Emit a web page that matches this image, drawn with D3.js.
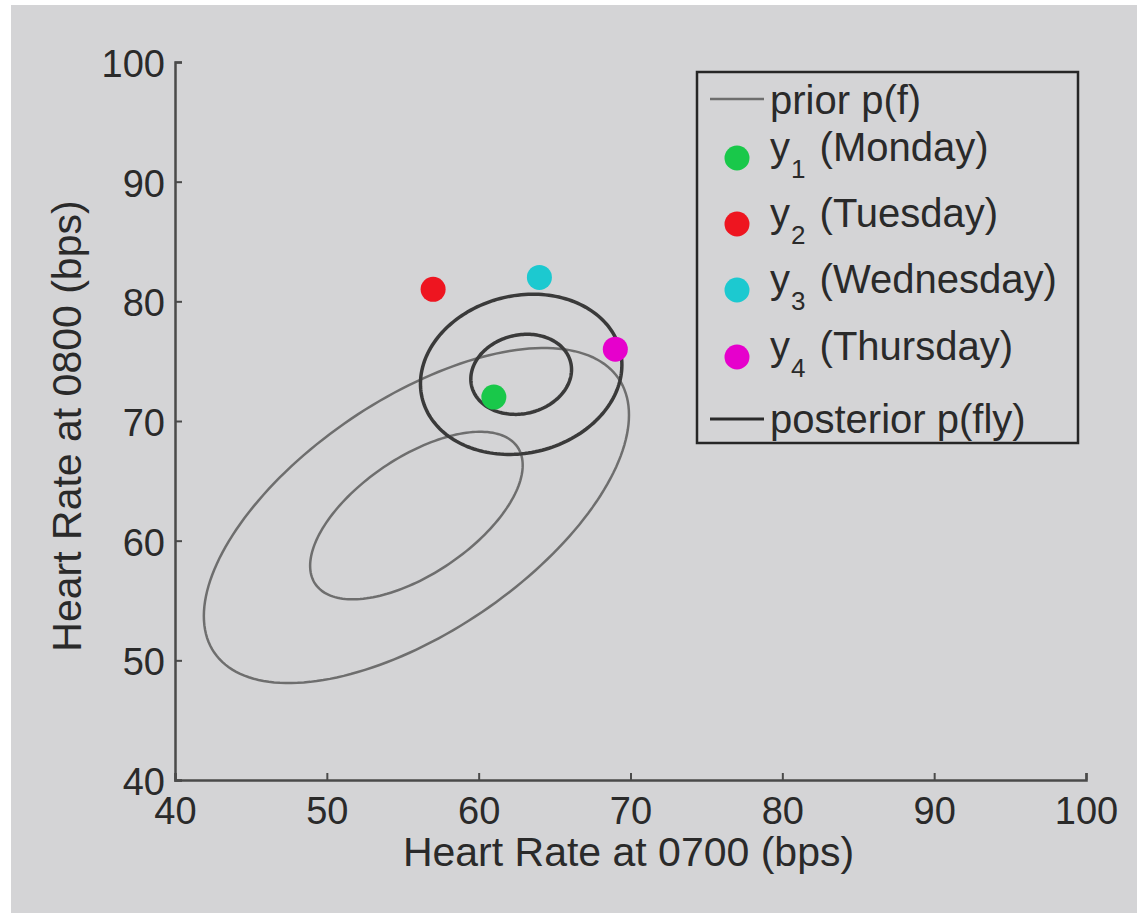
<!DOCTYPE html>
<html>
<head>
<meta charset="utf-8">
<script src="https://cdn.jsdelivr.net/npm/d3@7"></script>
<style>
  html, body { margin: 0; padding: 0; background: #ffffff; }
  svg { display: block; }
  text { font-family: "Liberation Sans", Arial, Helvetica, sans-serif; fill: #2a2a2a; }
</style>
</head>
<body>
<svg id="chart" width="1137" height="913"></svg>
<script>
// Observed heart rates (0700, 0800) for each day
const days = ["Monday", "Tuesday", "Wednesday", "Thursday"];
const obsX = [61, 57, 64, 69];
const obsY = [72, 81, 82, 76];
const obsColors = ["#19c84a", "#ee1520", "#1cc9d0", "#e600cc"];

// Gaussian prior p(f): mean and covariance
const priorMean = [55.9, 62.1];
const priorCov = [[49, 29.4], [29.4, 49]];

// Gaussian posterior p(f|y): mean and covariance
const postMean = [62.8, 73.9];
const postCov = [[11.0, 1.3], [1.3, 11.2]];

// Contour levels in standard deviations
const contourLevels = [1, 2];

// Axis ticks
const xTicks = [40, 50, 60, 70, 80, 90, 100];
const yTicks = [40, 50, 60, 70, 80, 90, 100];

const svg = d3.select("#chart");

// grey figure background
svg.append("rect").attr("x", 11).attr("y", 5).attr("width", 1126).attr("height", 908)
  .attr("fill", "#d4d4d6");

const x = d3.scaleLinear().domain([40, 100]).range([175, 1086]);
const y = d3.scaleLinear().domain([40, 100]).range([780, 62]);

// axes: left and bottom only, inward ticks
const axisColor = "#4a4a4a";
const xAxis = svg.append("g").attr("transform", `translate(0,${y(40)})`)
  .call(d3.axisBottom(x).tickValues(xTicks).tickSize(-7).tickPadding(17));
const yAxis = svg.append("g").attr("transform", `translate(${x(40)},0)`)
  .call(d3.axisLeft(y).tickValues(yTicks).tickSize(-7).tickPadding(10));

[xAxis, yAxis].forEach(g => {
  g.select(".domain").attr("stroke", axisColor).attr("stroke-width", 2.5);
  g.selectAll(".tick line").attr("stroke", axisColor).attr("stroke-width", 2);
  g.selectAll(".tick text").attr("fill", "#2a2a2a")
    .style("font-size", "38px").style("font-family", '"Liberation Sans", Arial, sans-serif');
});
xAxis.selectAll(".tick text").attr("dy", "0.71em");
yAxis.selectAll(".tick text").attr("dy", "0.38em");

// axis labels
svg.append("text").attr("x", x(70) - 2).attr("y", 866).attr("text-anchor", "middle")
  .style("font-size", "41px").text("Heart Rate at 0700 (bps)");
svg.append("text").attr("transform", `translate(81,${y(70) + 5}) rotate(-90)`)
  .attr("text-anchor", "middle").style("font-size", "41px").text("Heart Rate at 0800 (bps)");

// contour of a 2-D Gaussian at k standard deviations, via Cholesky factor
function ellipsePoints(mean, cov, k) {
  const a = Math.sqrt(cov[0][0]);
  const b = cov[1][0] / a;
  const c = Math.sqrt(cov[1][1] - b * b);
  return d3.range(0, 361, 2).map(deg => {
    const t = deg * Math.PI / 180;
    const u = k * Math.cos(t), v = k * Math.sin(t);
    return [mean[0] + a * u, mean[1] + b * u + c * v];
  });
}
const line = d3.line().x(d => x(d[0])).y(d => y(d[1])).curve(d3.curveLinearClosed);

const plot = svg.append("g");
contourLevels.forEach(k => {
  plot.append("path").attr("d", line(ellipsePoints(priorMean, priorCov, k)))
    .attr("fill", "none").attr("stroke", "#6e6e6e").attr("stroke-width", 2.5);
});
contourLevels.forEach(k => {
  plot.append("path").attr("d", line(ellipsePoints(postMean, postCov, k)))
    .attr("fill", "none").attr("stroke", "#3a3a3a").attr("stroke-width", 3.5);
});

// observations
plot.selectAll("circle.obs").data(days).join("circle").attr("class", "obs")
  .attr("cx", (d, i) => x(obsX[i])).attr("cy", (d, i) => y(obsY[i]))
  .attr("r", 12.5).attr("fill", (d, i) => obsColors[i]);

// legend
const lg = svg.append("g");
lg.append("rect").attr("x", 697).attr("y", 72).attr("width", 381).attr("height", 371)
  .attr("fill", "#d4d4d6").attr("stroke", "#262626").attr("stroke-width", 2.5);
const textX = 770;
lg.append("line").attr("x1", 710).attr("x2", 764).attr("y1", 99).attr("y2", 99)
  .attr("stroke", "#6e6e6e").attr("stroke-width", 2.5);
lg.append("text").attr("x", textX).attr("y", 114).style("font-size", "40px").text("prior p(f)");

const rowY = [158, 224, 290, 357];
days.forEach((d, i) => {
  lg.append("circle").attr("cx", 737).attr("cy", rowY[i]).attr("r", 12.5).attr("fill", obsColors[i]);
  const t = lg.append("text").attr("x", textX).attr("y", rowY[i] + 3).style("font-size", "40px");
  t.append("tspan").text("y");
  t.append("tspan").attr("dy", 17).attr("dx", 1).style("font-size", "26px").text(String(i + 1));
  t.append("tspan").attr("dy", -17).attr("dx", 3).text(" (" + d + ")");
});

lg.append("line").attr("x1", 710).attr("x2", 764).attr("y1", 419).attr("y2", 419)
  .attr("stroke", "#2a2a2a").attr("stroke-width", 3);
lg.append("text").attr("x", textX).attr("y", 433).style("font-size", "40px").text("posterior p(fly)");
</script>
</body>
</html>
